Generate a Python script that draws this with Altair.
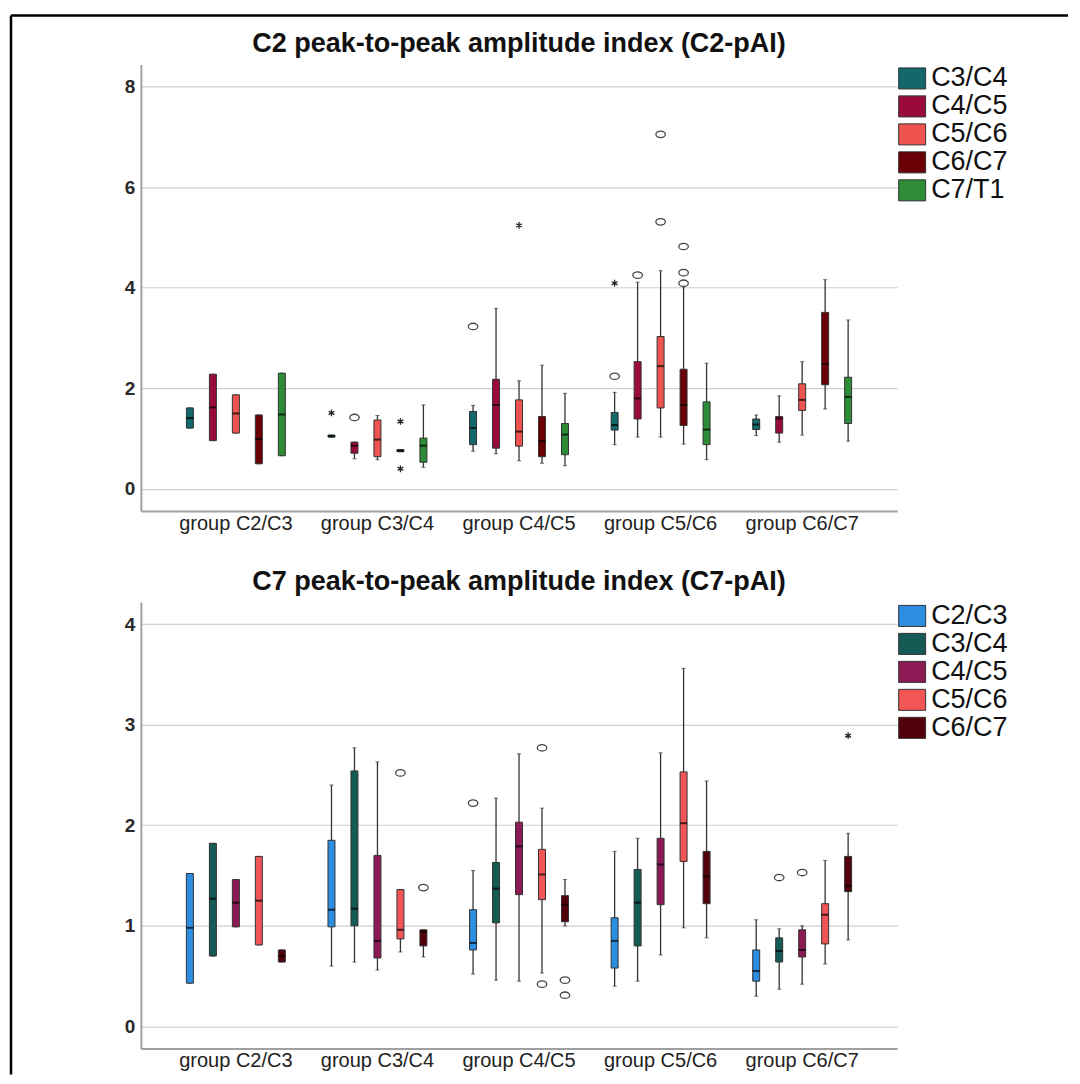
import altair as alt
import pandas as pd

groups = ["group C2/C3", "group C3/C4", "group C4/C5", "group C5/C6", "group C6/C7"]

# ---------------- top chart (C2-pAI) ----------------
top_series = ["C3/C4", "C4/C5", "C5/C6", "C6/C7", "C7/T1"]
top_colors = ["#13686B", "#9A0A3C", "#EF5350", "#6B0006", "#2E8B36"]
# rows = groups, columns = series
top_q1 = [[1.21, 0.96, 1.11, 0.50, 0.66],
          [1.03, 0.71, 0.64, 0.74, 0.53],
          [0.88, 0.81, 0.85, 0.64, 0.68],
          [1.17, 1.39, 1.61, 1.26, 0.88],
          [1.18, 1.11, 1.56, 2.07, 1.30]]
top_med = [[1.41, 1.62, 1.50, 0.99, 1.48],
           [1.05, 0.86, 0.98, 0.76, 0.86],
           [1.21, 1.67, 1.14, 0.95, 1.08],
           [1.27, 1.80, 2.44, 1.67, 1.18],
           [1.28, 1.40, 1.77, 2.48, 1.83]]
top_q3 = [[1.61, 2.28, 1.87, 1.47, 2.30],
          [1.07, 0.93, 1.37, 0.78, 1.01],
          [1.54, 2.18, 1.77, 1.44, 1.30],
          [1.52, 2.53, 3.03, 2.38, 1.73],
          [1.39, 1.44, 2.09, 3.51, 2.22]]
top_wlo = [[1.21, 0.96, 1.11, 0.50, 0.66],
           [1.03, 0.60, 0.58, 0.74, 0.43],
           [0.75, 0.70, 0.56, 0.51, 0.46],
           [0.88, 1.03, 1.03, 0.89, 0.58],
           [1.06, 0.93, 1.07, 1.59, 0.95]]
top_whi = [[1.61, 2.28, 1.87, 1.47, 2.30],
           [1.07, 0.93, 1.46, 0.78, 1.67],
           [1.66, 3.59, 2.15, 2.46, 1.90],
           [1.92, 4.11, 4.34, 4.02, 2.50],
           [1.47, 1.85, 2.53, 4.16, 3.36]]
top_circ_group = ["group C3/C4", "group C4/C5", "group C5/C6", "group C5/C6", "group C5/C6",
                  "group C5/C6", "group C5/C6", "group C5/C6", "group C5/C6"]
top_circ_series = ["C4/C5", "C3/C4", "C3/C4", "C4/C5", "C5/C6", "C5/C6", "C6/C7", "C6/C7", "C6/C7"]
top_circ_value = [1.42, 3.23, 2.24, 4.25, 5.31, 7.05, 4.09, 4.30, 4.82]
top_star_group = ["group C3/C4", "group C3/C4", "group C3/C4", "group C4/C5", "group C5/C6"]
top_star_series = ["C3/C4", "C6/C7", "C6/C7", "C5/C6", "C3/C4"]
top_star_value = [1.51, 1.34, 0.40, 5.24, 4.09]

# ---------------- bottom chart (C7-pAI) ----------------
bot_series = ["C2/C3", "C3/C4", "C4/C5", "C5/C6", "C6/C7"]
bot_colors = ["#2B8EE0", "#155B55", "#8B1A55", "#F25555", "#520009"]
bot_q1 = [[0.43, 0.70, 0.99, 0.81, 0.64],
          [0.99, 1.00, 0.68, 0.87, 0.80],
          [0.76, 1.03, 1.31, 1.26, 1.04],
          [0.58, 0.80, 1.21, 1.64, 1.22],
          [0.45, 0.64, 0.69, 0.82, 1.34]]
bot_med = [[0.98, 1.27, 1.23, 1.25, 0.70],
           [1.16, 1.17, 0.85, 0.96, 0.94],
           [0.83, 1.37, 1.79, 1.51, 1.21],
           [0.85, 1.23, 1.61, 2.02, 1.49],
           [0.55, 0.75, 0.76, 1.11, 1.40]]
bot_q3 = [[1.52, 1.82, 1.46, 1.69, 0.76],
          [1.85, 2.54, 1.70, 1.36, 0.96],
          [1.16, 1.63, 2.03, 1.76, 1.30],
          [1.08, 1.56, 1.87, 2.53, 1.74],
          [0.76, 0.88, 0.96, 1.22, 1.69]]
bot_wlo = [[0.43, 0.70, 0.99, 0.81, 0.64],
           [0.60, 0.64, 0.56, 0.74, 0.69],
           [0.52, 0.46, 0.45, 0.53, 1.00],
           [0.40, 0.45, 0.71, 0.98, 0.88],
           [0.30, 0.37, 0.42, 0.62, 0.86]]
bot_whi = [[1.52, 1.82, 1.46, 1.69, 0.76],
           [2.40, 2.77, 2.63, 1.36, 0.96],
           [1.55, 2.27, 2.71, 2.17, 1.46],
           [1.74, 1.87, 2.72, 3.56, 2.44],
           [1.06, 0.97, 1.00, 1.65, 1.92]]
bot_circ_group = ["group C3/C4", "group C3/C4", "group C4/C5", "group C4/C5", "group C4/C5",
                  "group C4/C5", "group C4/C5", "group C6/C7", "group C6/C7"]
bot_circ_series = ["C5/C6", "C6/C7", "C2/C3", "C5/C6", "C5/C6", "C6/C7", "C6/C7", "C3/C4", "C4/C5"]
bot_circ_value = [2.52, 1.38, 2.22, 2.77, 0.42, 0.46, 0.31, 1.48, 1.53]
bot_star_group = ["group C6/C7"]
bot_star_series = ["C6/C7"]
bot_star_value = [2.89]

FONT = "Liberation Sans"
ASTERISK = "M0,-1L0,1M-0.87,-0.5L0.87,0.5M-0.87,0.5L0.87,-0.5"
ELLIPSE = "M-1,0A1,0.68,0,1,0,1,0A1,0.68,0,1,0,-1,0Z"
SWATCH = "M-1,-0.78H1V0.78H-1Z"


def box_frame(series, q1, med, q3, wlo, whi):
    rows = []
    for gi, g in enumerate(groups):
        for si, s in enumerate(series):
            rows.append(dict(group=g, series=s, q1=q1[gi][si], med=med[gi][si],
                             q3=q3[gi][si], wlo=wlo[gi][si], whi=whi[gi][si]))
    return pd.DataFrame(rows)


def panel(series, colors, q1, med, q3, wlo, whi, cg, cs, cv, sg, ss, sv,
          domain, ticks, title):
    df = box_frame(series, q1, med, q3, wlo, whi)
    dc = pd.DataFrame(dict(group=cg, series=cs, value=cv))
    ds = pd.DataFrame(dict(group=sg, series=ss, value=sv))

    x = alt.X("group:N", sort=groups,
              scale=alt.Scale(paddingInner=0, paddingOuter=0.171),
              axis=alt.Axis(title=None, labelAngle=0, ticks=False, labelPadding=2,
                            labelFontSize=20, labelFont=FONT, labelColor="#222",
                            domainColor="#a0a0a0", domainWidth=2, grid=False))
    xo = alt.XOffset("series:N", sort=series,
                     scale=alt.Scale(domain=series, paddingInner=0, paddingOuter=0.58))
    ys = alt.Scale(domain=domain, nice=False, zero=False)
    yax = alt.Axis(title=None, values=ticks, ticks=False, labelPadding=6,
                   labelFontSize=19, labelFontWeight="bold", labelFont=FONT,
                   labelColor="#2a2a2a", domainColor="#a0a0a0", domainWidth=2,
                   grid=True, gridColor="#cfcfcf", gridWidth=1.2)

    base = alt.Chart(df)
    whisk = base.mark_rule(color="#333", strokeWidth=1.3).encode(
        x=x, xOffset=xo, y=alt.Y("wlo:Q", scale=ys, axis=yax), y2="whi:Q")
    cap_lo = base.mark_tick(color="#333", size=4, thickness=1).encode(
        x=x, xOffset=xo, y=alt.Y("wlo:Q", scale=ys, axis=yax))
    cap_hi = base.mark_tick(color="#333", size=4, thickness=1).encode(
        x=x, xOffset=xo, y=alt.Y("whi:Q", scale=ys, axis=yax))
    box = base.mark_bar(width=7, stroke="#333", strokeWidth=1).encode(
        x=x, xOffset=xo, y=alt.Y("q1:Q", scale=ys, axis=yax), y2="q3:Q",
        color=alt.Color("series:N",
                        scale=alt.Scale(domain=series, range=colors),
                        legend=alt.Legend(title=None, orient="right", offset=1, padding=0,
                                          rowPadding=1, labelOffset=5,
                                          symbolType=SWATCH, symbolSize=729,
                                          symbolStrokeColor="#333", symbolStrokeWidth=1,
                                          symbolOpacity=1,
                                          labelFontSize=27, labelFont=FONT,
                                          labelColor="#111", labelLimit=200)))
    med_t = base.mark_tick(color="black", size=7, thickness=2).encode(
        x=x, xOffset=xo, y=alt.Y("med:Q", scale=ys, axis=yax))
    circ = alt.Chart(dc).mark_point(shape=ELLIPSE, filled=False, size=90,
                                    color="#444", strokeWidth=1.3, opacity=1).encode(
        x=x, xOffset=xo, y=alt.Y("value:Q", scale=ys, axis=yax))
    star = alt.Chart(ds).mark_point(shape=ASTERISK, filled=False, size=45,
                                    color="#222", strokeWidth=1.3, opacity=1).encode(
        x=x, xOffset=xo, y=alt.Y("value:Q", scale=ys, axis=yax))

    return alt.layer(whisk, cap_lo, cap_hi, box, med_t, circ, star).properties(
        width=757, height=447,
        title=alt.TitleParams(title, fontSize=27, font=FONT, fontWeight="bold",
                              color="#111", anchor="middle", frame="group", offset=6))


# decorative outer frame (screenshot border), drawn in its own thin cell
fdf = pd.DataFrame({"k": [0]})
frame_top = alt.Chart(fdf).mark_rule(color="black", strokeWidth=2.5).encode(
    x=alt.value(-130), x2=alt.value(928), y=alt.value(0))
frame_left = alt.Chart(fdf).mark_rule(color="black", strokeWidth=2.5).encode(
    x=alt.value(-130), y=alt.value(0), y2=alt.value(1060))
frame = alt.layer(frame_top, frame_left).properties(width=757, height=1)

top = panel(top_series, top_colors, top_q1, top_med, top_q3, top_wlo, top_whi,
            top_circ_group, top_circ_series, top_circ_value,
            top_star_group, top_star_series, top_star_value,
            [-0.44, 8.44], [0, 2, 4, 6, 8],
            "C2 peak-to-peak amplitude index (C2-pAI)")
bot = panel(bot_series, bot_colors, bot_q1, bot_med, bot_q3, bot_wlo, bot_whi,
            bot_circ_group, bot_circ_series, bot_circ_value,
            bot_star_group, bot_star_series, bot_star_value,
            [-0.22, 4.22], [0, 1, 2, 3, 4],
            "C7 peak-to-peak amplitude index (C7-pAI)")

inner = alt.vconcat(top, bot, spacing=91, bounds="flush").resolve_scale(
    color="independent", x="independent", y="independent", xOffset="independent")
chart = alt.vconcat(frame, inner, spacing=48, bounds="flush").resolve_scale(
    color="independent", x="independent", y="independent", xOffset="independent"
).properties(
    padding={"left": 1, "top": 5, "right": 2, "bottom": 0},
    background="white",
).configure_view(stroke=None)

chart.save("out.html", embed_options={"renderer": "svg", "actions": False})
